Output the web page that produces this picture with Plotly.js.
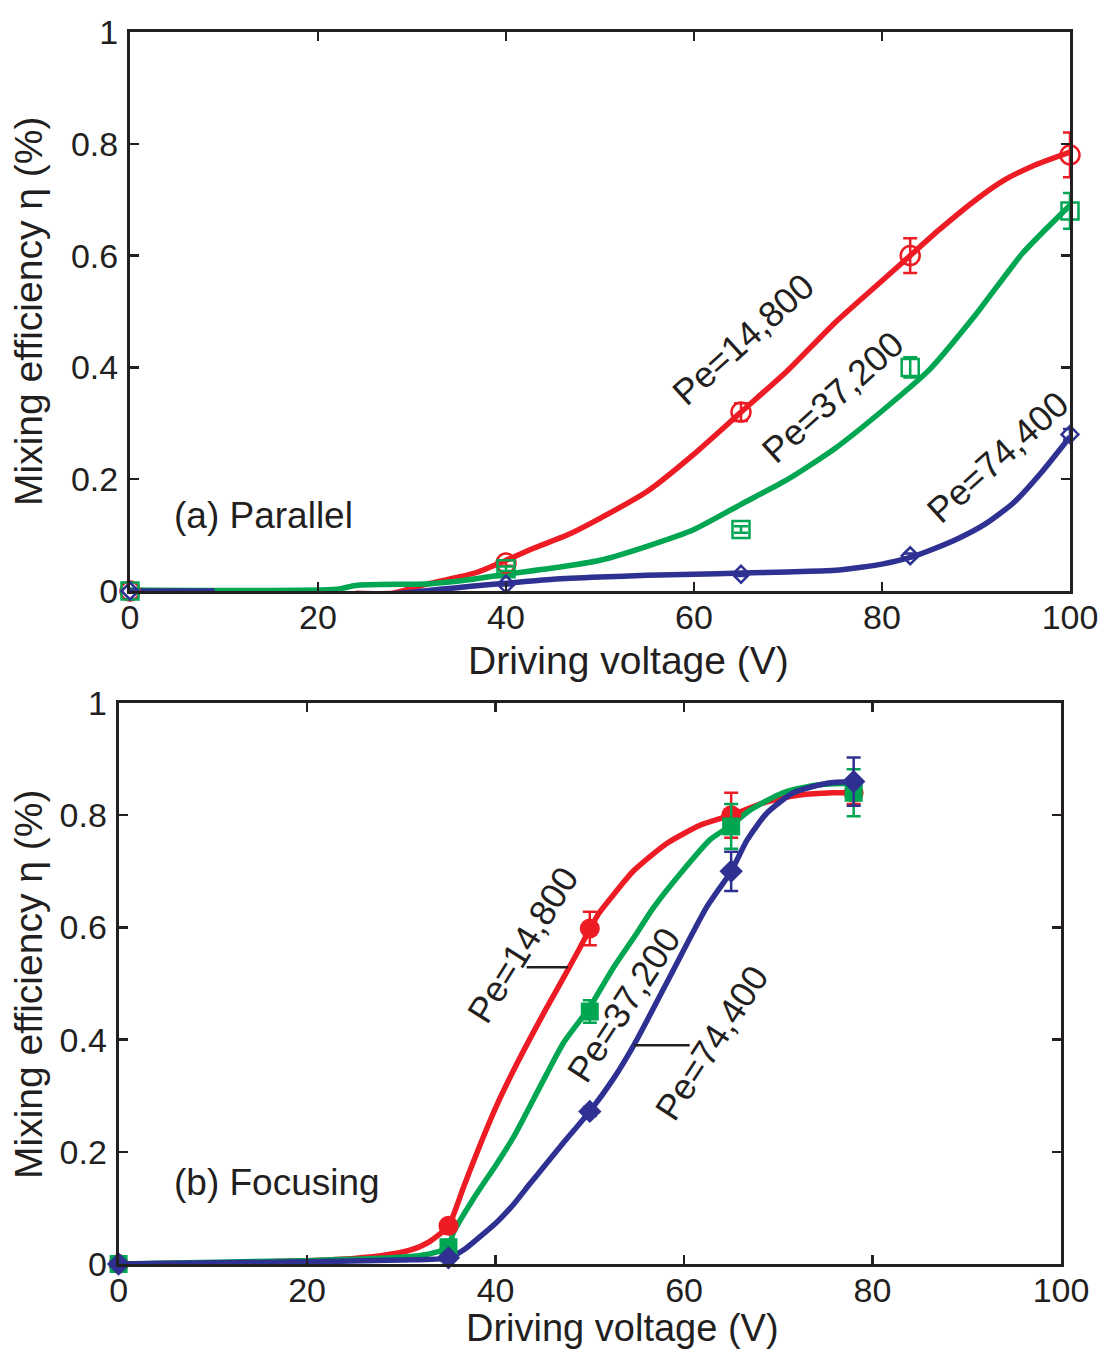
<!DOCTYPE html>
<html>
<head>
<meta charset="utf-8">
<script src="https://cdn.plot.ly/plotly-3.0.1.min.js"></script>
<style>html,body{margin:0;padding:0;background:#fff;}#chart{width:1115px;height:1353px;}</style>
</head>
<body>
<div id="chart"></div>
<script>
// ---------- (a) Parallel : experimental points ----------
const voltA = [0, 40, 65, 83, 100];
const expA_pe14800 = [0, 0.05, 0.32, 0.60, 0.78];
const errA_pe14800 = [0, 0.005, 0.016, 0.031, 0.04];
const expA_pe37200 = [0, 0.04, 0.11, 0.40, 0.68];
const errA_pe37200 = [0, 0.004, 0.006, 0.018, 0.032];
const expA_pe74400 = [0, 0.012, 0.03, 0.063, 0.28];
const errA_pe74400 = [0, 0.002, 0.003, 0.004, 0.01];

// ---------- (a) Parallel : simulation curves ----------
const simA_pe14800_x = [0, 9, null, 24, 28, 30, 32, 35, 37, 40, 43, 46.5, 50, 55, 60, 65, 70, 75, 80, 83, 86, 90, 93, 96, 100];
const simA_pe14800_y = [0, 0, null, -0.004, -0.004, 0.005, 0.014, 0.025, 0.034, 0.055, 0.077, 0.1, 0.13, 0.178, 0.245, 0.32, 0.395, 0.48, 0.555, 0.60, 0.645, 0.70, 0.735, 0.76, 0.785];
const simA_pe37200_x = [0, 22, 24, 32, 36, 40, 45, 50, 55, 60, 65, 70, 75, 80, 85, 90, 95, 100];
const simA_pe37200_y = [0.002, 0.003, 0.01, 0.013, 0.02, 0.03, 0.041, 0.055, 0.08, 0.11, 0.155, 0.2, 0.255, 0.322, 0.395, 0.495, 0.605, 0.69];
const simA_pe74400_x = [0, 9, null, 27, 30, 33, 36, 40, 45, 50, 55, 60, 65, 70, 75, 78, 80, 83, 85, 88, 91, 94, 97, 100];
const simA_pe74400_y = [0, 0, null, -0.006, -0.002, 0.003, 0.008, 0.014, 0.021, 0.025, 0.028, 0.03, 0.032, 0.034, 0.037, 0.043, 0.048, 0.06, 0.072, 0.093, 0.12, 0.158, 0.213, 0.276];

// ---------- (b) Focusing : experimental points ----------
const voltB = [0, 35, 50, 65, 78];
const expB_pe14800 = [0, 0.068, 0.598, 0.80, 0.84];
const errB_pe14800 = [0, 0.004, 0.03, 0.04, 0.02];
const expB_pe37200 = [0, 0.03, 0.45, 0.78, 0.84];
const errB_pe37200 = [0, 0.003, 0.02, 0.04, 0.042];
const expB_pe74400 = [0, 0.011, 0.272, 0.70, 0.86];
const errB_pe74400 = [0, 0.002, 0.008, 0.035, 0.043];

// ---------- (b) Focusing : simulation curves ----------
const simB_pe14800_x = [0, 10, 20, 25, 28, 31, 33, 35, 36.6, 38.3, 40.1, 41.9, 43.6, 45.4, 47.2, 48.9, 50, 51, 52.5, 54.6, 58.2, 61.7, 65, 68.8, 72.3, 75.8, 78];
const simB_pe14800_y = [0, 0.002, 0.006, 0.01, 0.015, 0.025, 0.04, 0.068, 0.137, 0.21, 0.282, 0.345, 0.4, 0.456, 0.51, 0.562, 0.597, 0.626, 0.658, 0.7, 0.75, 0.782, 0.80, 0.824, 0.836, 0.84, 0.84];
const simB_pe37200_x = [0, 20, 30, 33, 35, 35.5, 37.6, 40.1, 41.9, 43.6, 45.4, 47.2, 50, 52.5, 55, 56.7, 59.9, 62.8, 65, 67, 70.5, 74.1, 78];
const simB_pe37200_y = [0, 0.006, 0.012, 0.018, 0.03, 0.055, 0.115, 0.178, 0.226, 0.28, 0.338, 0.394, 0.458, 0.528, 0.59, 0.634, 0.702, 0.757, 0.782, 0.809, 0.84, 0.854, 0.857];
const simB_pe74400_x = [0, 20, 30, 35, 36.6, 38.3, 40.1, 41.9, 43.6, 45.4, 47.2, 50, 52.5, 54.6, 56.1, 58.5, 62.4, 65, 66.7, 68.8, 71.6, 75.2, 78];
const simB_pe74400_y = [0, 0.004, 0.007, 0.011, 0.025, 0.048, 0.074, 0.106, 0.142, 0.179, 0.216, 0.272, 0.33, 0.388, 0.435, 0.512, 0.636, 0.70, 0.756, 0.804, 0.84, 0.857, 0.86];

// ---------- labels ----------
const xTicks = [0, 20, 40, 60, 80, 100];
const xTickText = ['0', '20', '40', '60', '80', '100'];
const yTicks = [0, 0.2, 0.4, 0.6, 0.8, 1];
const yTickText = ['0', '0.2', '0.4', '0.6', '0.8', '1'];
const seriesNames = ['Pe=14,800', 'Pe=37,200', 'Pe=74,400'];
const xTitle = 'Driving voltage (V)';
const yTitle = 'Mixing efficiency η (%)';
const panelA = '(a) Parallel';
const panelB = '(b) Focusing';

// ---------- styling ----------
const RED = '#ED1C24', GREEN = '#00A651', BLUE = '#2E3192', INK = '#231F20';
const FONT = 'Liberation Sans, Arial, Helvetica, sans-serif';
const W = 1115, H = 1353;
const px = x => x / W;
const py = y => 1 - y / H;

function line(x, y, color, xa, ya) {
  return {x, y, xaxis: xa, yaxis: ya, type: 'scatter', mode: 'lines', connectgaps: false,
    line: {color, width: 5.5, shape: 'spline', smoothing: 0.6}, cliponaxis: false, hoverinfo: 'skip', showlegend: false};
}
function pts(x, y, err, color, symbol, size, xa, ya, open) {
  return {x, y, xaxis: xa, yaxis: ya, type: 'scatter', mode: 'markers', cliponaxis: false, showlegend: false,
    marker: {symbol, size, color, line: {color, width: open ? 2.5 : 0}},
    error_y: {type: 'data', array: err, visible: true, color, thickness: 2.5, width: 7}};
}

const traces = [
  line(simA_pe14800_x, simA_pe14800_y, RED, 'x', 'y'),
  line(simA_pe37200_x, simA_pe37200_y, GREEN, 'x', 'y'),
  line(simA_pe74400_x, simA_pe74400_y, BLUE, 'x', 'y'),
  pts(voltA, expA_pe14800, errA_pe14800, RED, 'circle-open', 19, 'x', 'y', true),
  pts(voltA, expA_pe37200, errA_pe37200, GREEN, 'square-open', 17, 'x', 'y', true),
  pts(voltA, expA_pe74400, errA_pe74400, BLUE, 'diamond-open', 13, 'x', 'y', true),

  line(simB_pe14800_x, simB_pe14800_y, RED, 'x2', 'y2'),
  line(simB_pe37200_x, simB_pe37200_y, GREEN, 'x2', 'y2'),
  line(simB_pe74400_x, simB_pe74400_y, BLUE, 'x2', 'y2'),
  pts(voltB, expB_pe14800, errB_pe14800, RED, 'circle', 20, 'x2', 'y2', false),
  pts(voltB, expB_pe37200, errB_pe37200, GREEN, 'square', 18, 'x2', 'y2', false),
  pts(voltB, expB_pe74400, errB_pe74400, BLUE, 'diamond', 18, 'x2', 'y2', false)
];

function xaxis(domain, anchor) {
  return {domain, anchor, range: [0, 100], tickmode: 'array', tickvals: xTicks, ticktext: xTickText,
    ticks: 'inside', ticklen: 9, tickwidth: 2.5, tickcolor: INK, showline: true, linewidth: 3, linecolor: INK,
    mirror: 'ticks', showgrid: false, zeroline: false, ticklabelstandoff: -6,
    tickfont: {family: FONT, size: 34, color: INK}};
}
function yaxis(domain, anchor) {
  return {domain, anchor, range: [0, 1], tickmode: 'array', tickvals: yTicks, ticktext: yTickText,
    ticks: 'inside', ticklen: 9, tickwidth: 2.5, tickcolor: INK, showline: true, linewidth: 3, linecolor: INK,
    mirror: 'ticks', showgrid: false, zeroline: false, ticklabelstandoff: 2,
    tickfont: {family: FONT, size: 34, color: INK}};
}

function txt(text, x, y, size, angle, xanchor) {
  return {text, xref: 'paper', yref: 'paper', x: px(x), y: py(y), showarrow: false,
    xanchor: xanchor || 'center', yanchor: 'middle', textangle: angle || 0,
    font: {family: FONT, size, color: INK}};
}

const annotations = [
  txt(seriesNames[0], 743, 340, 36, -42),
  txt(seriesNames[1], 832, 397, 36, -42),
  txt(seriesNames[2], 997, 457, 36, -42),
  txt(panelA, 172, 515, 37, 0, 'left'),
  txt(xTitle, 628, 660, 39),
  txt(yTitle, 28, 312, 39, -90),

  txt(seriesNames[0], 522, 945, 36, -58),
  txt(seriesNames[1], 623, 1005, 36, -57),
  txt(seriesNames[2], 711, 1043, 36, -57),
  txt(panelB, 172, 1182, 37, 0, 'left'),
  txt(xTitle, 622, 1328, 38),
  txt(yTitle, 28, 985, 39, -90)
];

const shapes = [
  {type: 'line', xref: 'x2', yref: 'y2', x0: 43.3, x1: 47.7, y0: 0.529, y1: 0.529, line: {color: INK, width: 2.5}},
  {type: 'line', xref: 'x2', yref: 'y2', x0: 54.7, x1: 60.6, y0: 0.39, y1: 0.39, line: {color: INK, width: 2.5}}
];

const layout = {
  width: W, height: H,
  margin: {l: 0, r: 0, t: 0, b: 0},
  paper_bgcolor: '#fff', plot_bgcolor: '#fff',
  showlegend: false,
  xaxis: xaxis([px(130), px(1070)], 'y'),
  yaxis: yaxis([py(591), py(32)], 'x'),
  xaxis2: xaxis([px(118.6), px(1061)], 'y2'),
  yaxis2: yaxis([py(1264), py(703)], 'x2'),
  annotations, shapes
};

Plotly.newPlot('chart', traces, layout, {staticPlot: true});
</script>
</body>
</html>
